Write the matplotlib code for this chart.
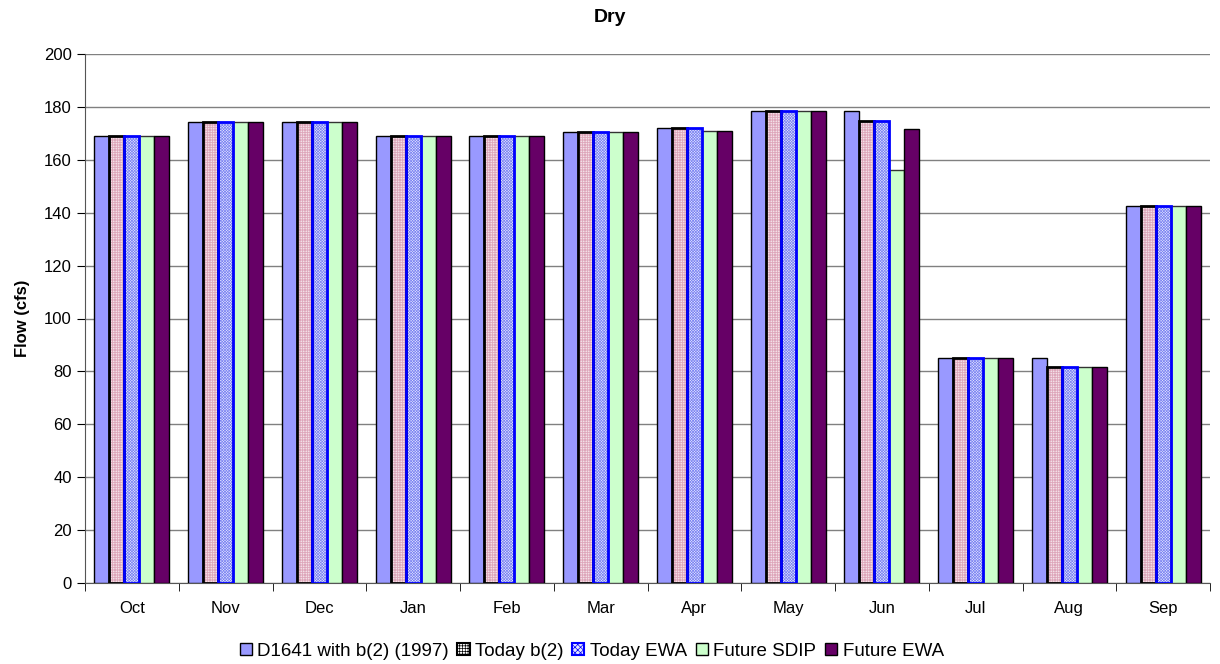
import numpy as np
import matplotlib.pyplot as plt
from matplotlib.patches import Patch

months = ["Oct", "Nov", "Dec", "Jan", "Feb", "Mar", "Apr", "May", "Jun", "Jul", "Aug", "Sep"]
d1641 = [169, 174.3, 174.3, 169, 169, 170.6, 172, 178.5, 178.5, 85, 85, 142.5]
today_b2 = [169, 174.3, 174.3, 169, 169, 170.6, 172, 178.5, 174.8, 85, 81.7, 142.5]
today_ewa = [169, 174.3, 174.3, 169, 169, 170.6, 172, 178.5, 174.8, 85, 81.7, 142.5]
future_sdip = [169, 174.3, 174.3, 169, 169, 170.6, 171, 178.5, 156, 85, 81.7, 142.5]
future_ewa = [169, 174.3, 174.3, 169, 169, 170.6, 171, 178.5, 171.8, 85, 81.7, 142.5]

labels = ["D1641 with b(2) (1997)", "Today b(2)", "Today EWA", "Future SDIP", "Future EWA"]
series = [d1641, today_b2, today_ewa, future_sdip, future_ewa]
# face, hatch, hatch colour, edge colour, edge width
styles = [
    ("#9999FF", None, None, "black", 1.0),
    ("white", "+" * 10, "#DDA6BA", "black", 2.0),
    ("#E6E8FF", "x" * 12, "#7C84F2", "#0000FF", 2.0),
    ("#CCFFCC", None, None, "#333333", 1.0),
    ("#660066", None, None, "black", 1.0),
]

plt.rcParams["font.family"] = ["Liberation Sans", "DejaVu Sans"]
plt.rcParams["hatch.linewidth"] = 0.5

fig = plt.figure(figsize=(12.2, 6.64), dpi=100)
ax = fig.add_axes([85 / 1220, 1 - 583 / 664, 1125 / 1220, 529 / 664])

x = np.arange(len(months))
w = 0.16
for i, (vals, st) in enumerate(zip(series, styles)):
    face, hatch, hcol, ecol, lw = st
    pos = x + (i - 2) * w
    if hatch:
        ax.bar(pos, vals, w, color=face, hatch=hatch, edgecolor=hcol, linewidth=0, zorder=3)
        ax.bar(pos, vals, w, fill=False, edgecolor=ecol, linewidth=lw, zorder=4)
    else:
        ax.bar(pos, vals, w, color=face, edgecolor=ecol, linewidth=lw, zorder=3)

ax.set_ylim(0, 200)
ax.set_yticks(range(0, 201, 20))
ax.set_xlim(-0.5, len(months) - 0.5)
ax.set_xticks(x)
ax.set_xticklabels(months, fontsize=12)
ax.set_xticks(np.arange(-0.5, len(months), 1), minor=True)
ax.tick_params(axis="x", which="major", length=0, pad=13)
ax.tick_params(axis="x", which="minor", length=6, direction="out", color="black")
ax.tick_params(axis="y", length=6, direction="out", labelsize=12)
ax.yaxis.grid(True, color="#808080", linewidth=1.0, zorder=0)
ax.set_axisbelow(True)
for s in ["top", "right"]:
    ax.spines[s].set_visible(False)
ax.spines["left"].set_color("#555555")
ax.spines["bottom"].set_color("#555555")

ax.set_ylabel("Flow (cfs)", fontsize=12, fontweight="bold", labelpad=10)
fig.text(0.5, 1 - 18 / 664, "Dry", ha="center", va="center", fontsize=14, fontweight="bold")

handles = []
for lab, st in zip(labels, styles):
    face, hatch, hcol, ecol, lw = st
    if hatch:
        handles.append(Patch(facecolor=face, hatch=hatch[:6], edgecolor=ecol, linewidth=1.5, label=lab))
    else:
        handles.append(Patch(facecolor=face, edgecolor="black", linewidth=1.0, label=lab))
fig.legend(handles=handles, loc="center", bbox_to_anchor=(0.485, 1 - 651 / 664), ncol=5,
           frameon=False, fontsize=13.5, handlelength=0.65, handleheight=0.65,
           handletextpad=0.3, columnspacing=0.45)

fig.savefig("out.png", dpi=100)
